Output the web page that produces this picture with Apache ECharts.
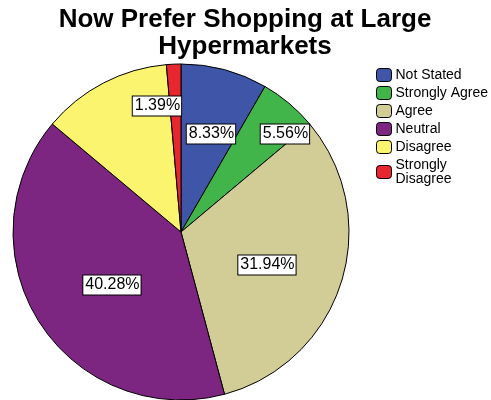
<!DOCTYPE html>
<html>
<head>
<meta charset="utf-8">
<script src="https://cdn.jsdelivr.net/npm/echarts@6/dist/echarts.min.js"></script>
<style>
  html, body { margin: 0; padding: 0; background: #fff; }
  #chart { width: 491px; height: 400px; }
</style>
</head>
<body>
<div id="chart"></div>
<script>
// Survey responses: "Now prefer shopping at large hypermarkets"
var categories = ['Not Stated', 'Strongly Agree', 'Agree', 'Neutral', 'Disagree', 'Strongly\nDisagree'];
var percentages = [8.33, 5.56, 31.94, 40.28, 12.50, 1.39];
var showLabel = [true, true, true, true, false, true];
var sliceColors = ['#3F56A8', '#41B549', '#D2CC96', '#7D2681', '#FBF46E', '#E8262E'];

// Where each value box sits: [angle clockwise from 12 o'clock in degrees, fraction of radius]
var labelSpots = [[17, 0.61], [46.7, 0.85], [111, 0.548], [232.5, 0.518], [0, 0], [349.2, 0.764]];

var CX = 181, CY = 232, R = 168;

var chart = echarts.init(document.getElementById('chart'), null, { renderer: 'canvas' });

chart.setOption({
  animation: false,
  backgroundColor: '#fff',
  title: {
    text: 'Now Prefer Shopping at Large\nHypermarkets',
    left: 240,
    textAlign: 'center',
    top: 1,
    textStyle: {
      fontFamily: 'Liberation Sans, Arial, sans-serif',
      fontSize: 26,
      fontWeight: 'bold',
      lineHeight: 27,
      color: '#000'
    }
  },
  legend: {
    orient: 'vertical',
    left: 371,
    top: 63,
    itemWidth: 15,
    itemHeight: 13,
    itemGap: 4,
    selectedMode: false,
    data: categories,
    textStyle: {
      fontFamily: 'Liberation Sans, Arial, sans-serif',
      fontSize: 14,
      lineHeight: 14,
      color: '#000',
      padding: [0, 0, 0, -1]
    },
    itemStyle: { borderColor: '#000', borderWidth: 1 }
  },
  series: [{
    type: 'pie',
    center: [CX, CY],
    radius: [0, R],
    startAngle: 90,
    clockwise: true,
    avoidLabelOverlap: false,
    data: categories.map(function (name, i) {
      return {
        name: name,
        value: percentages[i],
        itemStyle: { color: sliceColors[i] },
        label: { show: showLabel[i] }
      };
    }),
    itemStyle: { borderColor: '#000', borderWidth: 1 },
    label: {
      position: 'inside',
      formatter: function (p) { return p.value.toFixed(2) + '%'; },
      fontFamily: 'Liberation Sans, Arial, sans-serif',
      fontSize: 16,
      lineHeight: 18,
      color: '#000',
      backgroundColor: '#fff',
      borderColor: '#000',
      borderWidth: 1,
      padding: [1, 1, 0, 2]
    },
    labelLine: { show: false },
    labelLayout: function (params) {
      var s = labelSpots[params.dataIndex];
      var a = s[0] * Math.PI / 180;
      return {
        x: CX + s[1] * R * Math.sin(a),
        y: CY - s[1] * R * Math.cos(a),
        align: 'center',
        verticalAlign: 'middle'
      };
    },
    emphasis: { disabled: true }
  }]
});
</script>
</body>
</html>
